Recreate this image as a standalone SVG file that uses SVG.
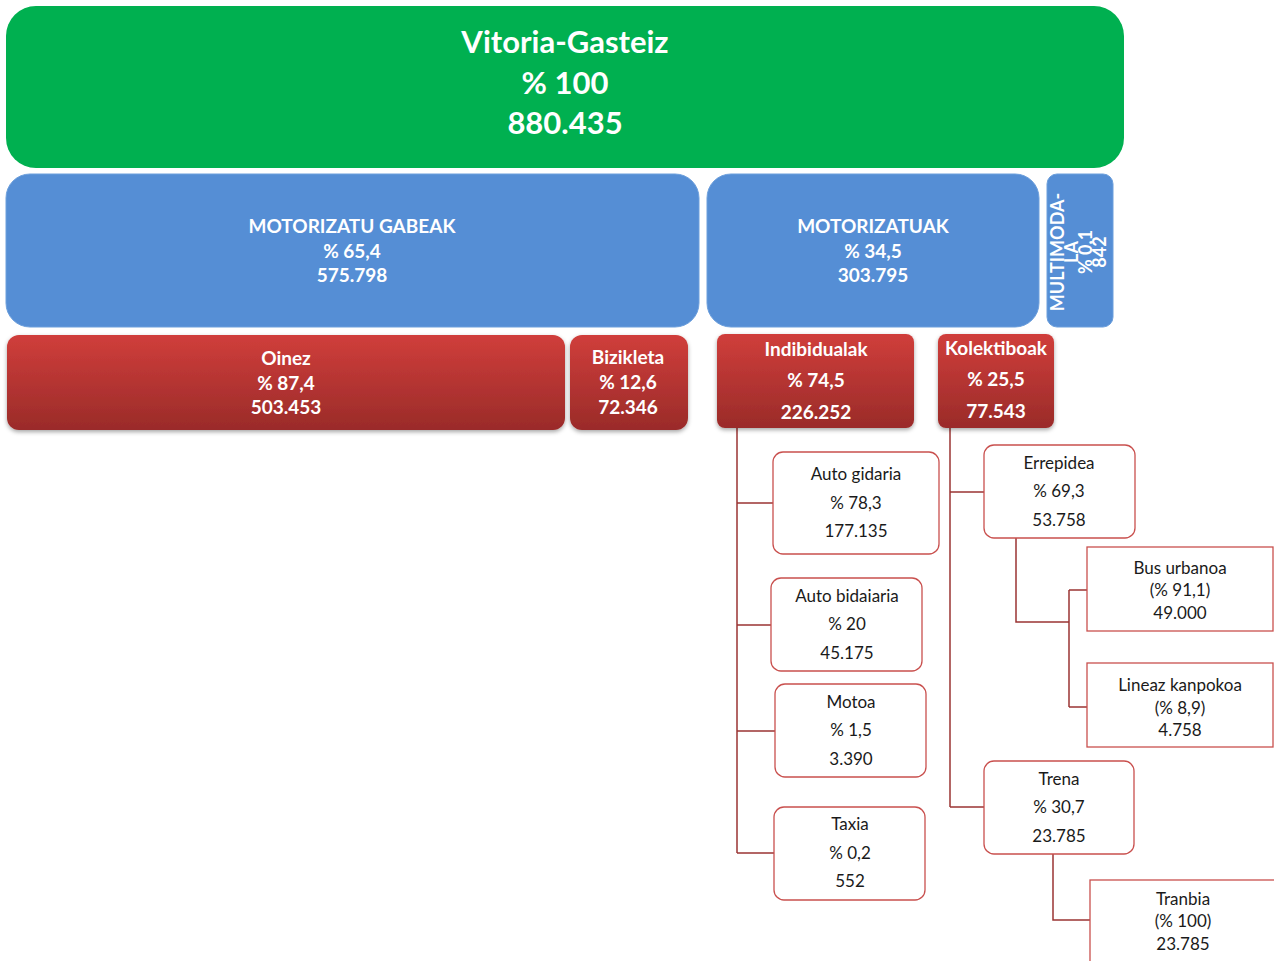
<svg xmlns="http://www.w3.org/2000/svg" width="1274" height="961" viewBox="0 0 1274 961">
<style>
.t{font-family:Lato,"Liberation Sans",sans-serif;text-anchor:middle}
.w{fill:#fff;font-weight:bold}
.big{font-size:31px}
.mid{font-size:19px}
.sm{font-size:17px;fill:#1a1a1a}
.mm{font-size:18px}
.red{fill:url(#rg);filter:url(#sh)}
.box{fill:#fff;stroke:#C9504E;stroke-width:1.3}
.blue{fill:#558ED5;stroke:#6c9fdc;stroke-width:1}
.con{fill:none;stroke:#9B3533;stroke-width:1.5}
</style>
<defs>
<linearGradient id="rg" x1="0" y1="0" x2="0" y2="1">
<stop offset="0" stop-color="#D03E3B"/>
<stop offset="1" stop-color="#9A2B29"/>
</linearGradient>
<filter id="sh" x="-5%" y="-10%" width="110%" height="130%">
<feGaussianBlur in="SourceAlpha" stdDeviation="2"/>
<feOffset dy="2" result="b"/>
<feFlood flood-color="#000" flood-opacity="0.35"/>
<feComposite in2="b" operator="in"/>
<feMerge><feMergeNode/><feMergeNode in="SourceGraphic"/></feMerge>
</filter>
</defs>
<rect width="1274" height="961" fill="#fff"/>
<g id="connectors">
<path class="con" d="M737 428V853M737 503H773M737 625H771M737 731H775M737 853H774"/>
<path class="con" d="M950 428V807M950 492H984M950 807H984"/>
<path class="con" d="M1016 538V622H1069M1069 590V707M1069 590H1087M1069 707H1087"/>
<path class="con" d="M1053 854V920H1090"/>
</g>
<g id="vitoria">
<rect x="6" y="6" width="1118" height="162" rx="30" fill="#00B050"/>
<text class="t w big" x="565" y="53">Vitoria-Gasteiz</text>
<text class="t w big" x="565" y="94">% 100</text>
<text class="t w big" x="565" y="134">880.435</text>
</g>
<g id="motorizatugabeak">
<rect class="blue" x="6" y="174" width="693" height="153" rx="24"/>
<text class="t w mid" x="352" y="233">MOTORIZATU GABEAK</text>
<text class="t w mid" x="352" y="258">% 65,4</text>
<text class="t w mid" x="352" y="282">575.798</text>
</g>
<g id="motorizatuak">
<rect class="blue" x="707" y="174" width="332" height="153" rx="24"/>
<text class="t w mid" x="873" y="233">MOTORIZATUAK</text>
<text class="t w mid" x="873" y="258">% 34,5</text>
<text class="t w mid" x="873" y="282">303.795</text>
</g>
<g id="multimodala">
<rect class="blue" x="1047" y="174" width="66" height="153" rx="10"/>
<g transform="translate(1080 252) rotate(-90)">
<text class="t w mm" x="0" y="-16">MULTIMODA-</text>
<text class="t w mm" x="0" y="-2">LA</text>
<text class="t w mm" x="0" y="12">% 0,1</text>
<text class="t w mm" x="0" y="26">842</text>
</g>
</g>
<g id="oinez">
<rect class="red" x="7" y="335" width="558" height="95" rx="12"/>
<text class="t w mid" x="286" y="365">Oinez</text>
<text class="t w mid" x="286" y="390">% 87,4</text>
<text class="t w mid" x="286" y="414">503.453</text>
</g>
<g id="bizikleta">
<rect class="red" x="570" y="335" width="118" height="95" rx="12"/>
<text class="t w mid" x="628" y="364">Bizikleta</text>
<text class="t w mid" x="628" y="389">% 12,6</text>
<text class="t w mid" x="628" y="414">72.346</text>
</g>
<g id="indibidualak">
<rect class="red" x="717" y="334" width="197" height="94" rx="8"/>
<text class="t w mid" x="816" y="356">Indibidualak</text>
<text class="t w mid" x="816" y="387">% 74,5</text>
<text class="t w mid" x="816" y="419">226.252</text>
</g>
<g id="kolektiboak">
<rect class="red" x="938" y="334" width="116" height="94" rx="8"/>
<text class="t w mid" x="996" y="355">Kolektiboak</text>
<text class="t w mid" x="996" y="386">% 25,5</text>
<text class="t w mid" x="996" y="418">77.543</text>
</g>
<g id="autogidaria">
<rect class="box" x="773" y="452" width="166" height="102" rx="10"/>
<text class="t sm" x="856" y="480">Auto gidaria</text>
<text class="t sm" x="856" y="509">% 78,3</text>
<text class="t sm" x="856" y="537">177.135</text>
</g>
<g id="autobidaiaria">
<rect class="box" x="771" y="578" width="151" height="93" rx="10"/>
<text class="t sm" x="847" y="602">Auto bidaiaria</text>
<text class="t sm" x="847" y="630">% 20</text>
<text class="t sm" x="847" y="659">45.175</text>
</g>
<g id="motoa">
<rect class="box" x="775" y="684" width="151" height="93" rx="10"/>
<text class="t sm" x="851" y="708">Motoa</text>
<text class="t sm" x="851" y="736">% 1,5</text>
<text class="t sm" x="851" y="765">3.390</text>
</g>
<g id="taxia">
<rect class="box" x="774" y="807" width="151" height="93" rx="10"/>
<text class="t sm" x="850" y="830">Taxia</text>
<text class="t sm" x="850" y="859">% 0,2</text>
<text class="t sm" x="850" y="887">552</text>
</g>
<g id="errepidea">
<rect class="box" x="984" y="445" width="151" height="93" rx="10"/>
<text class="t sm" x="1059" y="469">Errepidea</text>
<text class="t sm" x="1059" y="497">% 69,3</text>
<text class="t sm" x="1059" y="526">53.758</text>
</g>
<g id="busurbanoa">
<rect class="box" x="1087" y="547" width="186" height="84"/>
<text class="t sm" x="1180" y="574">Bus urbanoa</text>
<text class="t sm" x="1180" y="596">(% 91,1)</text>
<text class="t sm" x="1180" y="619">49.000</text>
</g>
<g id="lineazkanpokoa">
<rect class="box" x="1087" y="663" width="186" height="84"/>
<text class="t sm" x="1180" y="691">Lineaz kanpokoa</text>
<text class="t sm" x="1180" y="714">(% 8,9)</text>
<text class="t sm" x="1180" y="736">4.758</text>
</g>
<g id="trena">
<rect class="box" x="984" y="761" width="150" height="93" rx="10"/>
<text class="t sm" x="1059" y="785">Trena</text>
<text class="t sm" x="1059" y="813">% 30,7</text>
<text class="t sm" x="1059" y="842">23.785</text>
</g>
<g id="tranbia">
<rect class="box" x="1090" y="880" width="200" height="100"/>
<text class="t sm" x="1183" y="905">Tranbia</text>
<text class="t sm" x="1183" y="927">(% 100)</text>
<text class="t sm" x="1183" y="950">23.785</text>
</g>
</svg>
